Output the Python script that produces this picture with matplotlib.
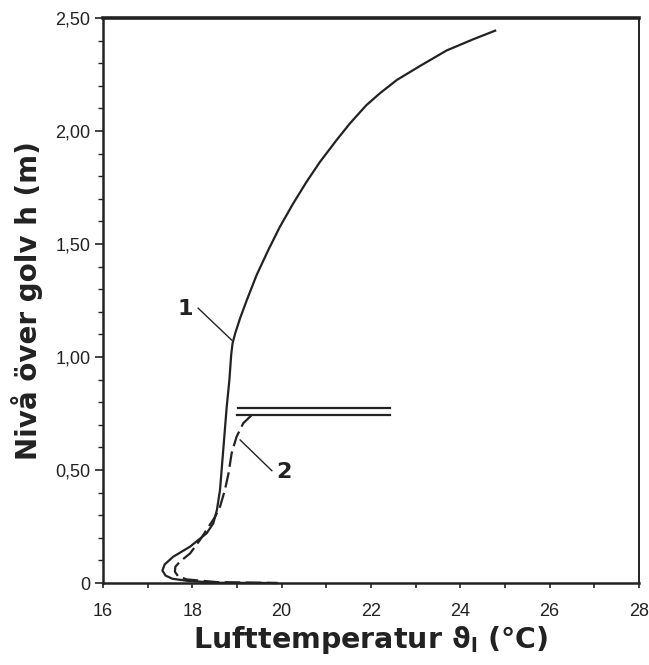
import matplotlib
matplotlib.use("Agg")
import matplotlib.pyplot as plt
from matplotlib.ticker import MultipleLocator, FixedLocator

plt.rcParams["mathtext.fontset"] = "dejavusans"

# curve 1 (solid), read top to bottom: temperature (degC), height (m)
temp_1 = [24.78, 24.29, 23.69, 23.10, 22.58, 22.20, 21.90, 21.53, 21.23, 20.86,
          20.56, 20.26, 19.96, 19.70, 19.44, 19.22, 19.07, 18.96, 18.90, 18.87,
          18.83, 18.77, 18.62, 18.55, 18.47, 18.32, 17.95, 17.57, 17.38, 17.33,
          17.40, 17.55, 17.87, 18.55, 19.89]
height_1 = [2.444, 2.406, 2.356, 2.288, 2.226, 2.167, 2.115, 2.034, 1.960, 1.864,
            1.776, 1.680, 1.576, 1.473, 1.363, 1.252, 1.172, 1.105, 1.060, 1.010,
            0.900, 0.780, 0.412, 0.323, 0.264, 0.220, 0.161, 0.116, 0.082, 0.055,
            0.033, 0.019, 0.010, 0.001, 0.0]

# curve 2 (dashed)
temp_2 = [19.33, 19.14, 18.99, 18.88, 18.81, 18.73, 18.62, 18.51, 18.17, 17.95,
          17.72, 17.62, 17.61, 17.68, 17.87, 18.55, 19.89]
height_2 = [0.743, 0.707, 0.647, 0.574, 0.485, 0.412, 0.338, 0.293, 0.190, 0.131,
            0.094, 0.072, 0.050, 0.030, 0.016, 0.004, 0.0]

# double line at the top of curve 2
shelf_upper_x = [19.03, 22.42]
shelf_lower_x = [18.99, 22.42]
shelf_upper = 0.773
shelf_lower = 0.743

x_ticks = [16, 18, 20, 22, 24, 26, 28]
y_ticks = [0, 0.5, 1.0, 1.5, 2.0, 2.5]
y_ticklabels = ["0", "0,50", "1,00", "1,50", "2,00", "2,50"]

ink = "#222222"

fig = plt.figure(figsize=(6.49, 6.65), dpi=100)
ax = fig.add_axes([103 / 649, 82 / 665, 536 / 649, 565 / 665])

ax.plot(temp_1, height_1, color=ink, lw=1.6, clip_on=False)
ax.plot(temp_2, height_2, color=ink, lw=1.6, dashes=(7, 2.5), clip_on=False)
ax.plot(shelf_upper_x, [shelf_upper, shelf_upper], color=ink, lw=1.6)
ax.plot(shelf_lower_x, [shelf_lower, shelf_lower], color=ink, lw=1.6)

# curve numbers with leader lines
ax.text(17.84, 1.212, "1", fontsize=16, fontweight="bold", ha="center", va="center", color=ink)
ax.plot([18.13, 18.88], [1.216, 1.075], color=ink, lw=1.0)
ax.text(20.05, 0.492, "2", fontsize=16, fontweight="bold", ha="center", va="center", color=ink)
ax.plot([19.78, 19.07], [0.497, 0.633], color=ink, lw=1.0)

ax.set_xlim(16, 28)
ax.set_ylim(0, 2.5)
ax.xaxis.set_major_locator(FixedLocator(x_ticks))
ax.xaxis.set_minor_locator(MultipleLocator(1))
ax.yaxis.set_major_locator(FixedLocator(y_ticks))
ax.yaxis.set_minor_locator(MultipleLocator(0.1))
ax.set_xticklabels([str(t) for t in x_ticks])
ax.set_yticklabels(y_ticklabels)

ax.tick_params(axis="both", which="both", labelsize=13, labelfontfamily="Liberation Sans",
               colors=ink)
ax.tick_params(axis="y", which="major", direction="out", length=6, width=1.2, pad=3)
ax.tick_params(axis="y", which="minor", direction="out", length=3.5, width=1.0)
ax.tick_params(axis="x", which="both", direction="out", length=3.5, width=1.2, pad=11)

for side, w in [("left", 1.8), ("bottom", 1.8), ("top", 2.6), ("right", 1.4)]:
    ax.spines[side].set_linewidth(w)
    ax.spines[side].set_color(ink)

ax.set_xlabel(r"Lufttemperatur $\mathbf{\vartheta_l}$ (°C)", fontsize=20.5, fontweight="bold",
              color=ink, labelpad=3)
ax.set_ylabel("Nivå över golv h (m)", fontsize=20, fontweight="bold",
              color=ink, labelpad=9)

fig.savefig("out.png", dpi=100)
